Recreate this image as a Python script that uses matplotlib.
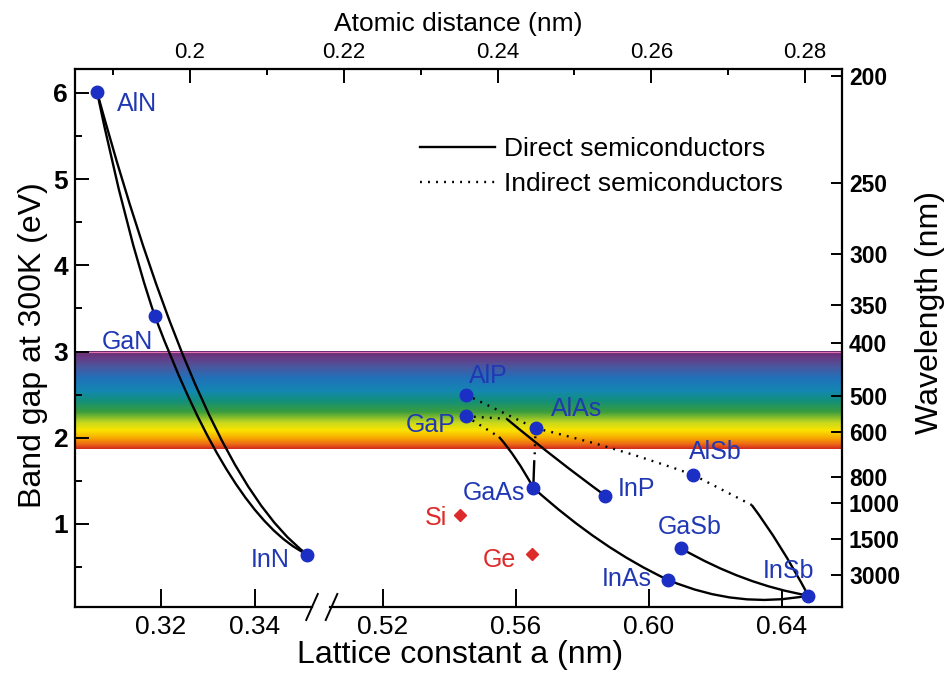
import numpy as np
import matplotlib.pyplot as plt
from matplotlib.colors import LinearSegmentedColormap
from matplotlib.path import Path
from matplotlib.patches import PathPatch
from matplotlib.lines import Line2D

plt.rcParams['font.family'] = ['Liberation Sans', 'DejaVu Sans']

# --- datos ---
# nitruros (tramo izquierdo del eje)
nit_names = ["AlN", "GaN", "InN"]
nit_a = [0.3064, 0.3187, 0.3511]
nit_eg = [6.01, 3.41, 0.646]
nit_lab_a = [0.3149, 0.3128, 0.3432]
nit_lab_eg = [5.87, 3.11, 0.58]

# III-V (tramo derecho)
iii_names = ["AlP", "GaP", "AlAs", "GaAs", "InP", "AlSb", "GaSb", "InAs", "InSb"]
iii_a = [0.5449, 0.5449, 0.5659, 0.5652, 0.5868, 0.6133, 0.6095, 0.6058, 0.6479]
iii_eg = [2.50, 2.25, 2.11, 1.42, 1.33, 1.57, 0.72, 0.35, 0.17]
iii_lab_a = [0.5516, 0.5344, 0.5783, 0.5534, 0.5961, 0.6201, 0.6123, 0.5934, 0.6421]
iii_lab_eg = [2.72, 2.15, 2.33, 1.36, 1.41, 1.83, 0.97, 0.36, 0.46]

# Si, Ge
el_names = ["Si", "Ge"]
el_a = [0.5431, 0.5647]
el_eg = [1.11, 0.655]
el_lab_a = [0.5359, 0.5549]
el_lab_eg = [1.07, 0.58]

# curvas de aleaciones: (inicio, punto medio leido, final)
aln_gan = [(0.3064, 6.01), (0.31255, 4.55), (0.3187, 3.41)]
aln_inn = [(0.3064, 6.01), (0.32875, 2.44), (0.3511, 0.646)]
gan_inn = [(0.3187, 3.41), (0.3349, 1.55), (0.3511, 0.646)]

gap_gaas = [(0.5549, 2.01), (0.56005, 1.75), (0.5652, 1.42)]
gaas_inas = [(0.5652, 1.42), (0.5855, 0.80), (0.6058, 0.35)]
inas_insb = [(0.6058, 0.35), (0.62685, 0.135), (0.6479, 0.17)]
gap_inp = [(0.5572, 2.22), (0.5720, 1.76), (0.5868, 1.33)]
gasb_insb = [(0.6095, 0.72), (0.6287, 0.37), (0.6479, 0.17)]
alsb_insb = [(0.6309, 1.22), (0.6394, 0.74), (0.6479, 0.17)]
alas_gaas = [(0.5655, 1.74), (0.56535, 1.58), (0.5652, 1.42)]
direct_curves = [gap_gaas, gaas_inas, inas_insb, gap_inp, gasb_insb, alsb_insb, alas_gaas]

# indirectas (punteadas)
gap_gaas_ind = [(0.5449, 2.25), (0.5499, 2.13), (0.5549, 2.01)]
gap_inp_ind = [(0.5449, 2.25), (0.55105, 2.235), (0.5572, 2.22)]
alp_alas = [(0.5449, 2.50), (0.5554, 2.305), (0.5659, 2.11)]
alas_alsb = [(0.5659, 2.11), (0.5896, 1.87), (0.6133, 1.57)]
alsb_ind = [(0.6133, 1.57), (0.6221, 1.395), (0.6309, 1.22)]
alas_gaas_ind = [(0.5659, 2.11), (0.56575, 1.945), (0.5656, 1.78)]
indirect_curves = [gap_gaas_ind, gap_inp_ind, alp_alas, alas_alsb, alsb_ind, alas_gaas_ind]

# ejes secundarios
wl_ticks = [200, 250, 300, 350, 400, 500, 600, 800, 1000, 1500, 3000]
dist_ticks = [0.20, 0.22, 0.24, 0.26, 0.28]

# banda visible
vis_lo, vis_hi = 1.87, 3.0
rainbow_pos = [0.0, 0.05, 0.11, 0.19, 0.27, 0.38, 0.49, 0.60, 0.73, 0.84, 0.93, 1.0]
rainbow_col = ["#d22a1c", "#ee6a16", "#f6a800", "#fbe300", "#c6d81e", "#3a9c3e",
               "#12907a", "#1486b4", "#2270b8", "#4a579e", "#663c86", "#6c2a70"]

BLUE = "#1c2fc4"
TXTBLUE = "#2138b4"
RED = "#dd2a2a"

W, H = 945, 673
fig = plt.figure(figsize=(W / 100, H / 100), dpi=100)

L, R, T, B = 75, 842, 69, 607
brk_l, brk_r = 312, 330
ylim = (0.037, 6.278)


def fr(x0, x1):
    return [x0 / W, 1 - B / H, (x1 - x0) / W, (B - T) / H]


def bow(ax, pts, **kw):
    # parabola (ley de Vegard + bowing) como bezier cuadratica
    p0, pm, p1 = np.array(pts)
    ctrl = 2 * pm - (p0 + p1) / 2
    path = Path([p0, ctrl, p1], [Path.MOVETO, Path.CURVE3, Path.CURVE3])
    ax.add_patch(PathPatch(path, fill=False, **kw))


# eje de fondo: marco, eje superior y arcoiris
ax_bg = fig.add_axes(fr(L, R))
ax_bg.set_xlim(0.18504, 0.28481)
ax_bg.set_ylim(ylim)
cmap = LinearSegmentedColormap.from_list("vis", list(zip(rainbow_pos, rainbow_col)))
grad = np.linspace(0, 1, 256)[:, None]
ax_bg.imshow(grad, extent=[0.18504, 0.28481, vis_lo, vis_hi], origin="lower",
             aspect="auto", cmap=cmap, zorder=0)
ax_bg.axhline(vis_hi, color="#e070b0", lw=0.8, zorder=1)
ax_bg.spines["bottom"].set_visible(False)
for s in ax_bg.spines.values():
    s.set_linewidth(1.6)
ax_bg.xaxis.tick_top()
ax_bg.set_xticks(dist_ticks, labels=[f"{v:g}" for v in dist_ticks])
ax_bg.set_xticks(np.arange(0.19, 0.285, 0.02), minor=True)
ax_bg.tick_params(axis="x", which="major", direction="in", length=10, width=1.4,
                  labelsize=16, pad=4, top=True, bottom=False)
ax_bg.tick_params(axis="x", which="minor", direction="in", length=4, width=1.4,
                  top=True, bottom=False)
for lab in ax_bg.get_xticklabels():
    lab.set_family(['Liberation Sans Narrow', 'Liberation Sans'])
ax_bg.set_yticks([1, 2, 3, 4, 5, 6])
ax_bg.set_yticks([0.5, 1.5, 2.5, 3.5, 4.5, 5.5], minor=True)
ax_bg.tick_params(axis="y", which="major", direction="in", length=10, width=1.4,
                  labelsize=19, pad=5)
ax_bg.tick_params(axis="y", which="minor", direction="in", length=5, width=1.4)
for lab in ax_bg.get_yticklabels():
    lab.set_fontweight("bold")
ax_bg.set_xlabel("Atomic distance (nm)", fontsize=19, labelpad=8,
                 family=['Liberation Sans Narrow', 'Liberation Sans'])
ax_bg.xaxis.set_label_position("top")

ax_w = ax_bg.twinx()
ax_w.set_ylim(ylim)
ax_w.set_yticks([1240 / l for l in wl_ticks], labels=[str(l) for l in wl_ticks])
ax_w.tick_params(axis="y", direction="in", length=8, width=1.4, labelsize=16.5, pad=5)
for lab in ax_w.get_yticklabels():
    lab.set_fontweight("bold")
for s in ax_w.spines.values():
    s.set_visible(False)

# tramos del eje inferior
ax_l = fig.add_axes(fr(L, brk_l))
ax_r = fig.add_axes(fr(brk_r, R))
ax_l.set_xlim(0.30170, 0.35213)
ax_r.set_xlim(0.50406, 0.65805)
ax_l.set_xticks([0.32, 0.34], labels=["0.32", "0.34"])
ax_r.set_xticks([0.52, 0.56, 0.60, 0.64], labels=["0.52", "0.56", "0.60", "0.64"])
for ax in (ax_l, ax_r):
    ax.set_ylim(ylim)
    ax.patch.set_alpha(0)
    for side in ("top", "left", "right"):
        ax.spines[side].set_visible(False)
    ax.spines["bottom"].set_linewidth(1.6)
    ax.tick_params(axis="x", direction="in", length=13, width=1.4, labelsize=19, pad=6)
    ax.tick_params(axis="y", left=False, labelleft=False)

# marcas de corte
kw = dict(color="black", lw=1.4, clip_on=False)
dx, dy = 5.8 / (brk_l - L), 13 / (B - T)
ax_l.plot([1 - dx, 1 + dx], [-dy, dy], transform=ax_l.transAxes, **kw)
dx2 = 5.8 / (R - brk_r)
ax_r.plot([0.003 - dx2, 0.003 + dx2], [-dy, dy], transform=ax_r.transAxes, **kw)

# curvas
lw = 1.7
dot = (0, (0.8, 2.6))
for c in (aln_gan, aln_inn, gan_inn):
    bow(ax_l, c, color="black", lw=lw)
for c in direct_curves:
    bow(ax_r, c, color="black", lw=lw)
for c in indirect_curves:
    bow(ax_r, c, color="black", lw=lw, linestyle=dot)

# puntos y etiquetas
ax_l.plot(nit_a, nit_eg, "o", color=BLUE, ms=9, clip_on=False, zorder=5)
ax_r.plot(iii_a, iii_eg, "o", color=BLUE, ms=9, clip_on=False, zorder=5)
ax_r.plot(el_a, el_eg, "D", color=RED, ms=6, zorder=5)
for n, xa, ye in zip(nit_names, nit_lab_a, nit_lab_eg):
    ax_l.text(xa, ye, n, color=TXTBLUE, fontsize=18, ha="center", va="center")
for n, xa, ye in zip(iii_names, iii_lab_a, iii_lab_eg):
    ax_r.text(xa, ye, n, color=TXTBLUE, fontsize=18, ha="center", va="center")
for n, xa, ye in zip(el_names, el_lab_a, el_lab_eg):
    ax_r.text(xa, ye, n, color=RED, fontsize=18, ha="center", va="center")

# leyenda
h1 = Line2D([], [], color="black", lw=lw)
h2 = Line2D([], [], color="black", lw=lw, linestyle=dot)
fig.legend([h1, h2], ["Direct semiconductors", "Indirect semiconductors"],
           loc="upper left", bbox_to_anchor=(420 / W, 1 - 137 / H), frameon=False,
           fontsize=19, handlelength=2.85, handletextpad=0.35, labelspacing=0.42,
           borderpad=0, borderaxespad=0)

# titulos de ejes
fig.text(460 / W, 1 - 655 / H, "Lattice constant a (nm)", fontsize=23,
         ha="center", va="center")
fig.text(33 / W, 1 - 345 / H, "Band gap at 300K (eV)", fontsize=23,
         ha="center", va="center", rotation=90)
fig.text(930 / W, 1 - 312 / H, "Wavelength (nm)", fontsize=23,
         ha="center", va="center", rotation=90)

fig.savefig("out.png", dpi=100)
